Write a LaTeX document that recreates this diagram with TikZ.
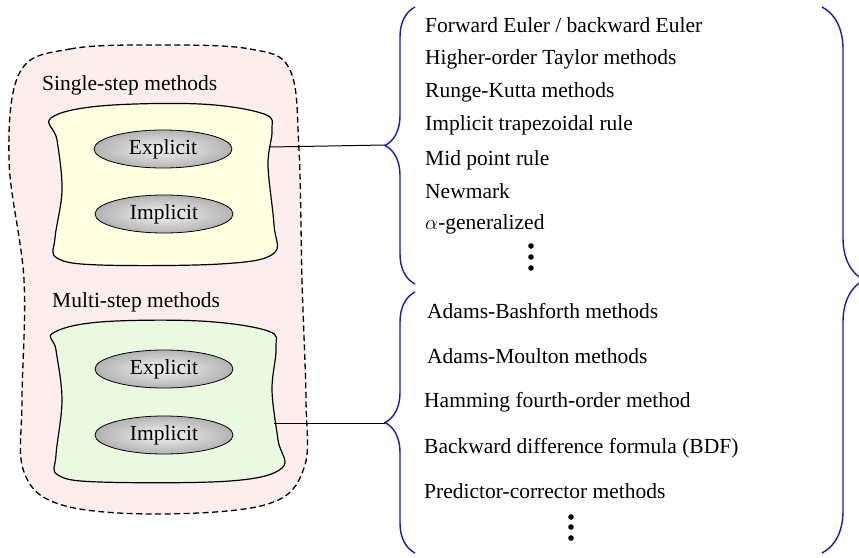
\documentclass[tikz,border=0pt]{standalone}
\usepackage{amsmath}
\usepackage{fontspec}
\setmainfont{Liberation Serif}
\usetikzlibrary{decorations.pathreplacing,shapes.geometric}
\definecolor{blobpink}{RGB}{253,237,236}
\definecolor{blobyellow}{RGB}{254,254,225}
\definecolor{blobgreen}{RGB}{234,250,225}
\definecolor{braceblue}{RGB}{25,25,185}
\tikzset{
  blob/.style = {draw = black, line width = 1.2pt},
  method/.style = {ellipse, draw = black, line width = 0.8pt, minimum width = 138pt, minimum height = 38pt,
    inner color = gray!8, outer color = gray!60, font = \fontsize{21.5}{25}\selectfont},
  group/.style = {anchor = base west, inner sep = 0pt, font = \fontsize{21.5}{25}\selectfont},
  item/.style = {anchor = base west, inner sep = 0pt, font = \fontsize{21.5}{25}\selectfont},
  bracket/.style = {decorate, decoration = {brace, amplitude = #1}, color = braceblue, line width = 1.4pt},
}
\begin{document}
\begin{tikzpicture}[x = 1pt, y = -1pt]
		\useasboundingbox (0,0) rectangle (859,557);
		% outer region
		\draw[dash pattern = on 6pt off 3.5pt, line width = 1.3pt, fill = blobpink] plot[smooth cycle, tension = 0.6] coordinates {
			(20,72) (70,49) (160,45) (250,49) (290,70) (299,150) (302,280) (306,400) (304,468)
			(268,504) (160,514) (62,505) (24,472) (22,400) (24,280) (9,160)};
		% single-step
		\draw[blob, fill = blobyellow] plot[smooth cycle, tension = 0.6] coordinates {
			(51,118) (100,106) (200,104) (264,114) (272,130) (268,165) (274,225) (273,254)
			(220,264) (100,265) (57,258) (55,238) (62,190) (57,140)};
		\node[group] (single) at (42,90) {Single-step methods};
		\node[method] (ex1) at (163,149) {Explicit};
		\node[method] (im1) at (164,214) {Implicit};
		% multi-step
		\draw[blob, fill = blobgreen] plot[smooth cycle, tension = 0.6] coordinates {
			(53,333) (100,322) (200,321) (268,331) (276,348) (272,390) (278,440) (282,468)
			(230,481) (100,482) (58,475) (56,455) (62,400) (56,350)};
		\node[group] (multi) at (52,307) {Multi-step methods};
		\node[method] (ex2) at (164,369) {Explicit};
		\node[method] (im2) at (164,435) {Implicit};
		% connectors
		\coordinate (s1) at (270,147);
		\coordinate (s2) at (274,423);
		\coordinate (t1) at (385,145);
		\coordinate (t2) at (385,423);
		\draw[line width = 1pt] (s1) -- (t1);
		\draw[line width = 1pt] (s2) -- (t2);
		% braces
		\draw[bracket = 30pt] (415,284) -- (415,7);
		\draw[bracket = 30pt] (415,553) -- (415,292);
		\draw[bracket = 42pt] (822,7) -- (822,553);
		% single-step list
		\node[item] (a1) at (425,32) {Forward Euler / backward Euler};
		\node[item] (a2) at (425,64) {Higher-order Taylor methods};
		\node[item] (a3) at (425,97) {Runge-Kutta methods};
		\node[item] (a4) at (425,130) {Implicit trapezoidal rule};
		\node[item] (a5) at (425,165) {Mid point rule};
		\node[item] (a6) at (425,198) {Newmark};
		\node[item] (a7) at (425,229) {$\alpha$-generalized};
		\foreach \y in {246,257,268} \fill (531,\y) circle (2.8pt);
		% multi-step list
		\node[item] (b1) at (427,318) {Adams-Bashforth methods};
		\node[item] (b2) at (427,363) {Adams-Moulton methods};
		\node[item] (b3) at (424,407) {Hamming fourth-order method};
		\node[item] (b4) at (424,453) {Backward difference formula (BDF)};
		\node[item] (b5) at (424,498) {Predictor-corrector methods};
		\foreach \y in {517,527,538} \fill (571,\y) circle (2.8pt);
\end{tikzpicture}
\end{document}
